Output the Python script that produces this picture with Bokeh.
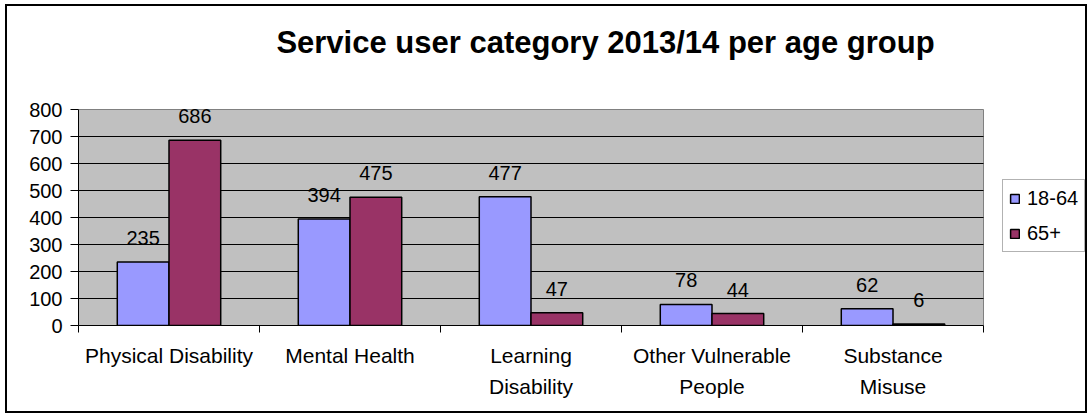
from bokeh.plotting import figure
from bokeh.layouts import column
from bokeh.models import (Range1d, FixedTicker, Legend, LegendItem, Label, ColumnDataSource)
from bokeh.transform import dodge
from bokeh.core.properties import value
from bokeh.embed import file_html
from bokeh.resources import INLINE

# ---- data ----
categories = ["Physical Disability", "Mental Health", "Learning Disability",
              "Other Vulnerable People", "Substance Misuse"]
category_labels = ["Physical Disability", "Mental Health", "Learning\nDisability",
                   "Other Vulnerable\nPeople", "Substance\nMisuse"]
series_names = ["18-64", "65+"]
age_18_64 = [235, 394, 477, 78, 62]
age_65_plus = [686, 475, 47, 44, 6]
y_ticks = [0, 100, 200, 300, 400, 500, 600, 700, 800]
title_text = "Service user category 2013/14 per age group"

FONT = "Liberation Sans"
C1 = "#9999FF"
C2 = "#993366"

n = len(categories)
centers = [i + 0.5 for i in range(n)]
y_max = y_ticks[-1]

# layout geometry (pixels, relative to the figure canvas)
W, H = 1078, 405
LEFT, BOTTOM = 71, 86
CAT_PX = 905                 # width of the category area
PLOT_PX = 216                # height of the 0..800 plot area
frame_w = W - LEFT
frame_h = H - BOTTOM
x_end = n * frame_w / CAT_PX
y_end = y_max * frame_h / PLOT_PX
px_x = n / CAT_PX            # data units per pixel
px_y = y_max / PLOT_PX

p = figure(width=W, height=H,
           x_range=Range1d(0, x_end), y_range=Range1d(0, y_end),
           output_backend="svg", toolbar_location=None,
           min_border_left=LEFT, min_border_right=0,
           min_border_top=0, min_border_bottom=BOTTOM)
p.background_fill_color = "white"
p.border_fill_color = "white"
p.outline_line_color = None
p.xgrid.grid_line_color = None
p.ygrid.grid_line_color = None

# plot area (grey) limited to the category span
p.quad(left=[0], right=[n], bottom=[0], top=[y_max], fill_color="#C0C0C0",
       line_color="#808080", line_width=1, level="image")
# horizontal gridlines at the y ticks
p.segment(x0=[0] * (len(y_ticks) - 2), x1=[n] * (len(y_ticks) - 2),
          y0=y_ticks[1:-1], y1=y_ticks[1:-1], line_color="black", line_width=1,
          level="underlay")

xaxis = p.xaxis[0]
xaxis.bounds = (0, n)
xaxis.ticker = FixedTicker(ticks=centers, minor_ticks=list(range(n + 1)))
xaxis.major_label_overrides = {c: lab for c, lab in zip(centers, category_labels)}
xaxis.major_tick_line_color = None
xaxis.major_tick_out = 0
xaxis.major_tick_in = 0
xaxis.minor_tick_out = 7
xaxis.minor_tick_in = 0
xaxis.minor_tick_line_color = "black"
xaxis.axis_line_color = "black"
xaxis.major_label_text_font = FONT
xaxis.major_label_text_font_size = "21px"
xaxis.major_label_text_color = "black"
xaxis.major_label_standoff = 11
xaxis.major_label_text_line_height = 1.35

yaxis = p.yaxis[0]
yaxis.bounds = (0, y_max)
yaxis.ticker = FixedTicker(ticks=y_ticks)
yaxis.minor_tick_line_color = None
yaxis.major_tick_out = 8
yaxis.major_tick_in = 0
yaxis.major_tick_line_color = "black"
yaxis.axis_line_color = "black"
yaxis.major_label_text_font = FONT
yaxis.major_label_text_font_size = "20px"
yaxis.major_label_text_color = "black"
yaxis.major_label_standoff = 8

bw = 1 / 3.5
src = ColumnDataSource(dict(pos=centers, a=age_18_64, b=age_65_plus,
                            a_lbl=[str(v) for v in age_18_64],
                            b_lbl=[str(v) for v in age_65_plus]))

r1 = p.vbar(x=dodge("pos", -bw / 2), top="a", width=bw, source=src,
            fill_color=C1, line_color="black", line_width=1.5)
r2 = p.vbar(x=dodge("pos", bw / 2), top="b", width=bw, source=src,
            fill_color=C2, line_color="black", line_width=1.5)

for col, ycol, off in (("a_lbl", "a", -bw / 2), ("b_lbl", "b", bw / 2)):
    p.text(x=dodge("pos", off), y=ycol, text=col, source=src,
           text_align="center", text_baseline="alphabetic", y_offset=-24,
           text_font=value(FONT), text_font_size="20px", text_color="black")

legend = Legend(items=[LegendItem(label=series_names[0], renderers=[r1]),
                       LegendItem(label=series_names[1], renderers=[r2])],
                location=(924, 73), orientation="vertical",
                border_line_color="#666666", border_line_width=1,
                background_fill_color="white", background_fill_alpha=1,
                glyph_width=11, glyph_height=11, label_standoff=7,
                label_text_font=FONT, label_text_font_size="20px",
                label_text_color="black",
                padding=6, spacing=11, label_height=24, margin=0)
p.add_layout(legend)

# chart title, centred a little right of the plot-area centre
title = Label(x=527 * px_x, y=283 * px_y, text=title_text,
              text_align="center", text_baseline="alphabetic",
              text_font=FONT, text_font_size="31px", text_font_style="bold",
              text_color="black")
p.add_layout(title)

page = column(p, styles={"border": "2px solid black", "margin-left": "5px",
                         "margin-top": "4px", "background": "white"})

open("out.html", "w").write(file_html(page, INLINE))
